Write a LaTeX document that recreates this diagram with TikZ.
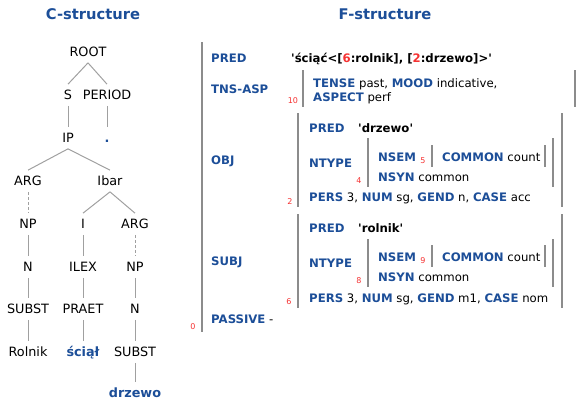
\documentclass[tikz,border=0pt]{standalone}
\usepackage{fontspec}
\setmainfont{DejaVu Sans}
\definecolor{fsblue}{RGB}{28,78,152}
\definecolor{barg}{RGB}{140,140,140}
\definecolor{lineg}{RGB}{160,160,160}
\definecolor{idxred}{RGB}{245,50,50}
\newcommand\fattr[1]{{\bfseries\color{fsblue}#1}}
\newcommand\fidx[1]{{\color{idxred}#1}}
\newcommand\sq{\textquotesingle}
\begin{document}
\begin{tikzpicture}[x=1pt,y=-1pt,
  title/.style={font=\bfseries\fontsize{14.7}{16}\selectfont, text=fsblue},
  cnode/.style={font=\fontsize{12.8}{14}\selectfont, inner xsep=1pt, inner ysep=6pt, text height=9.3pt, text depth=0pt},
  cword/.style={cnode, font=\bfseries\fontsize{12.8}{14}\selectfont, text=fsblue},
  tedge/.style={draw=lineg, line width=1pt},
  tdash/.style={tedge, dashed, dash pattern=on 3pt off 2pt},
  flab/.style={anchor=base west, inner sep=0pt, font=\fontsize{11.7}{13}\selectfont},
  fnum/.style={font=\fontsize{8}{9}\selectfont, text=idxred, inner sep=0pt},
  fbar/.style={draw=barg, line width=2pt}]
\useasboundingbox (0,0) rectangle (582,400);

% titles
\node[title] (ctitle) at (93,14) {C-structure};
\node[title] (ftitle) at (385,14) {F-structure};

% c-structure tree
\node[cnode] (root)   at (88,52)  {ROOT};
\node[cnode] (s)      at (68,95)  {S};
\node[cnode] (period) at (107,95) {PERIOD};
\node[cnode] (ip)     at (68,138) {IP};
\node[cword] (dot)    at (107,138) {.};
\node[cnode] (arg1)   at (28,181) {ARG};
\node[cnode] (ibar)   at (110,181) {Ibar};
\node[cnode] (np1)    at (28,224) {NP};
\node[cnode] (i)      at (83,224) {I};
\node[cnode] (arg2)   at (135,224) {ARG};
\node[cnode] (n1)     at (28,267) {N};
\node[cnode] (ilex)   at (83,267) {ILEX};
\node[cnode] (np2)    at (135,267) {NP};
\node[cnode] (subst1) at (28,309) {SUBST};
\node[cnode] (praet)  at (83,309) {PRAET};
\node[cnode] (n2)     at (135,309) {N};
\node[cnode] (rolnik) at (28,352) {Rolnik};
\node[cword] (sciol)  at (83,352) {ściął};
\node[cnode] (subst2) at (135,352) {SUBST};
\node[cword] (drzewo) at (135,392.5) {drzewo};

\draw[tedge] (root.south) -- (s.north);
\draw[tedge] (root.south) -- (period.north);
\draw[tedge] (s) -- (ip);
\draw[tedge] (period) -- (dot);
\draw[tedge] (ip.south) -- (arg1.north);
\draw[tedge] (ip.south) -- (ibar.north);
\draw[tdash] (arg1) -- (np1);
\draw[tedge] (ibar.south) -- (i.north);
\draw[tedge] (ibar.south) -- (arg2.north);
\draw[tedge] (np1) -- (n1);
\draw[tedge] (n1) -- (subst1);
\draw[tedge] (subst1) -- (rolnik);
\draw[tedge] (i) -- (ilex);
\draw[tedge] (ilex) -- (praet);
\draw[tedge] (praet) -- (sciol);
\draw[tdash] (arg2) -- (np2);
\draw[tedge] (np2) -- (n2);
\draw[tedge] (n2) -- (subst2);
\draw[tedge] (subst2) -- (drzewo);

% f-structure: outer matrix
\draw[fbar] (202,42) -- (202,332);
\node[fnum] (i0) at (193,327) {0};
\node[flab] (pred) at (211,62.5) {\fattr{PRED}};
\node[flab] (predv) at (291,62.5) {\bfseries \sq ściąć<[\fidx{6}:rolnik], [\fidx{2}:drzewo]>\sq};

% tense/aspect
\node[flab] (tns) at (211,93.5) {\fattr{TNS-ASP}};
\draw[fbar] (303,70) -- (303,107);
\draw[fbar] (575,70) -- (575,107);
\node[fnum] (i10) at (293,101) {10};
\node[flab] (tense) at (313,87.5) {\fattr{TENSE} past, \fattr{MOOD} indicative,};
\node[flab] (aspect) at (313,101.5) {\fattr{ASPECT} perf};

% object
\node[flab] (obj) at (211,164.5) {\fattr{OBJ}};
\draw[fbar] (298,113) -- (298,207);
\draw[fbar] (562,113) -- (562,207);
\node[fnum] (i2) at (290,202) {2};
\node[flab] (opred) at (309,132.5) {\fattr{PRED}};
\node[flab] (opredv) at (358,132.5) {\bfseries \sq drzewo\sq};
\node[flab] (ontype) at (309,167.5) {\fattr{NTYPE}};
\draw[fbar] (368,138) -- (368,187);
\draw[fbar] (553,138) -- (553,187);
\node[fnum] (i4) at (359,181) {4};
\node[flab] (onsem) at (378,161.5) {\fattr{NSEM}};
\node[fnum] (i5) at (423,161) {5};
\draw[fbar] (432,145) -- (432,167);
\draw[fbar] (545,145) -- (545,167);
\node[flab] (ocommon) at (442,161.5) {\fattr{COMMON} count};
\node[flab] (onsyn) at (378,181.5) {\fattr{NSYN} common};
\node[flab] (opers) at (309,201.5) {\fattr{PERS} 3, \fattr{NUM} sg, \fattr{GEND} n, \fattr{CASE} acc};

% subject
\node[flab] (subj) at (211,265.5) {\fattr{SUBJ}};
\draw[fbar] (298,214) -- (298,308);
\draw[fbar] (562,214) -- (562,308);
\node[fnum] (i6) at (289,302) {6};
\node[flab] (spred) at (309,232.5) {\fattr{PRED}};
\node[flab] (spredv) at (358,232.5) {\bfseries \sq rolnik\sq};
\node[flab] (sntype) at (309,267.5) {\fattr{NTYPE}};
\draw[fbar] (368,239) -- (368,287);
\draw[fbar] (553,239) -- (553,287);
\node[fnum] (i8) at (359,281) {8};
\node[flab] (snsem) at (378,261.5) {\fattr{NSEM}};
\node[fnum] (i9) at (423,261) {9};
\draw[fbar] (432,245) -- (432,267);
\draw[fbar] (545,245) -- (545,267);
\node[flab] (scommon) at (442,261.5) {\fattr{COMMON} count};
\node[flab] (snsyn) at (378,281.5) {\fattr{NSYN} common};
\node[flab] (spers) at (309,302.5) {\fattr{PERS} 3, \fattr{NUM} sg, \fattr{GEND} m1, \fattr{CASE} nom};

% passive
\node[flab] (passive) at (211,323.5) {\fattr{PASSIVE} -};
\end{tikzpicture}
\end{document}
